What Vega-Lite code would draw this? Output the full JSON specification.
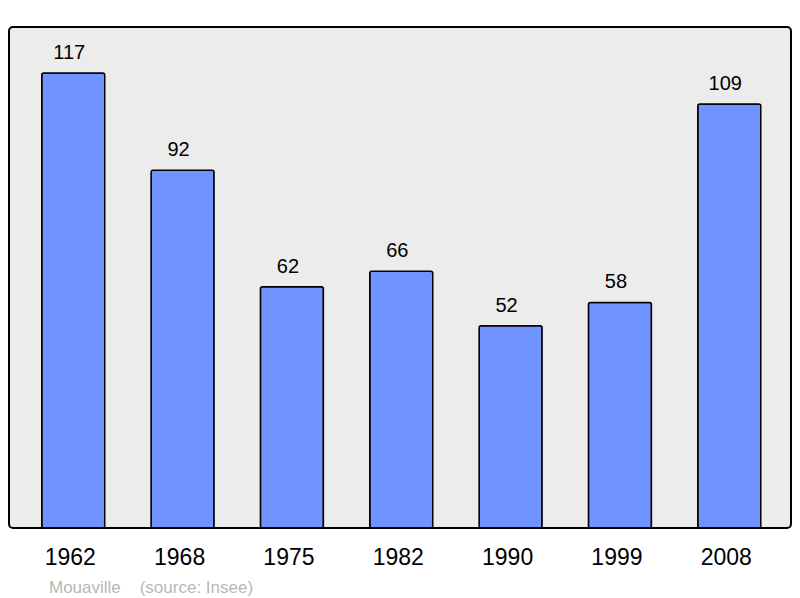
{
  "$schema": "https://vega.github.io/schema/vega-lite/v6.json",
  "width": 782,
  "height": 501,
  "padding": {"left": 9, "top": 27, "right": 9, "bottom": 5},
  "background": "#ffffff",
  "data": {
    "values": [
      {"year": "1962", "pop": 117},
      {"year": "1968", "pop": 92},
      {"year": "1975", "pop": 62},
      {"year": "1982", "pop": 66},
      {"year": "1990", "pop": 52},
      {"year": "1999", "pop": 58},
      {"year": "2008", "pop": 109}
    ]
  },
  "title": {
    "text": "Mouaville\u00a0\u00a0\u00a0\u00a0(source: Insee)",
    "orient": "bottom",
    "anchor": "start",
    "dx": 40,
    "offset": 11,
    "font": "Liberation Sans",
    "fontSize": 17,
    "fontWeight": "normal",
    "color": "#b8b8b8"
  },
  "encoding": {
    "x": {
      "field": "year",
      "type": "ordinal",
      "title": null,
      "scale": {"paddingInner": 0.424, "paddingOuter": 0.288, "align": 0.52},
      "axis": {
        "labelAngle": 0,
        "labelFont": "Liberation Sans",
        "labelFontSize": 23,
        "labelColor": "#000000",
        "labelPadding": 18,
        "labelOffset": -3,
        "ticks": false,
        "tickSize": 0,
        "domain": false
      }
    },
    "y": {
      "field": "pop",
      "type": "quantitative",
      "scale": {"domain": [0, 128.8], "nice": false},
      "axis": null
    }
  },
  "layer": [
    {
      "mark": {
        "type": "bar",
        "fill": "#7094ff",
        "stroke": "#000000",
        "strokeWidth": 1.5,
        "cornerRadius": 2
      }
    },
    {
      "mark": {
        "type": "text",
        "baseline": "bottom",
        "dy": -10,
        "dx": -4,
        "font": "Liberation Sans",
        "fontSize": 20,
        "color": "#000000"
      },
      "encoding": {"text": {"field": "pop", "type": "quantitative"}}
    }
  ],
  "config": {
    "view": {
      "fill": "#ececec",
      "stroke": "#000000",
      "strokeWidth": 2,
      "cornerRadius": 4
    }
  }
}
